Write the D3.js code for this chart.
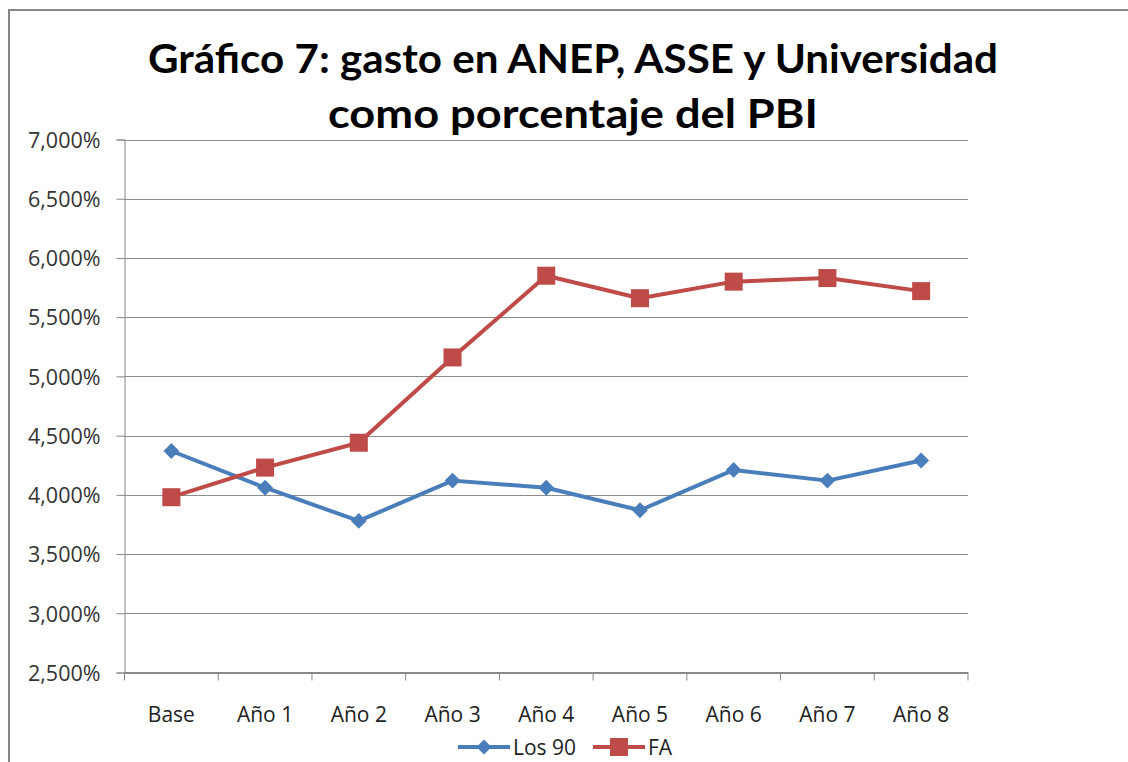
<!DOCTYPE html>
<html><head><meta charset="utf-8">
<script src="https://cdn.jsdelivr.net/npm/d3@7"></script>
<style>body{margin:0;background:#fff}svg{display:block}</style>
</head><body>
<svg id="c" width="1128" height="762"></svg>
<script>
const categories = ["Base","Año 1","Año 2","Año 3","Año 4","Año 5","Año 6","Año 7","Año 8"];
const los90 = [4.37,4.06,3.78,4.12,4.06,3.87,4.21,4.12,4.29];
const fa = [3.98,4.23,4.44,5.16,5.85,5.66,5.80,5.83,5.72];
const yTicks = [2.5,3.0,3.5,4.0,4.5,5.0,5.5,6.0,6.5,7.0];
const titleLines = ["Gráfico 7: gasto en ANEP, ASSE y Universidad","como porcentaje del PBI"];
const seriesNames = ["Los 90","FA"];

const svg = d3.select("#c");
const L=124.5, R=968, T=139.5, B=672.5;
const font = "'Open Sans', 'Noto Sans', sans-serif";

// frame
svg.append("path").attr("d","M9,762 V10 H1128").attr("fill","none").attr("stroke","#868686").attr("stroke-width",2);

// title
const tw = [850, 490];
svg.selectAll("text.title").data(titleLines).join("text")
  .attr("x",573).attr("y",(d,i)=>i?128:73)
  .attr("text-anchor","middle").attr("font-family","'Lato','Open Sans',sans-serif")
  .attr("font-weight","bold").attr("font-size",40).attr("fill","#000")
  .attr("textLength",(d,i)=>tw[i]).attr("lengthAdjust","spacingAndGlyphs")
  .text(d=>d);

const x = d3.scaleBand().domain(categories).range([L,R]);
const y = d3.scaleLinear().domain([2.5,7.0]).range([B,T]);

// gridlines
svg.append("g").selectAll("line").data(yTicks).join("line")
  .attr("x1",L).attr("x2",R).attr("y1",d=>Math.round(y(d))+0.5).attr("y2",d=>Math.round(y(d))+0.5)
  .attr("stroke","#8c8c8c").attr("stroke-width",1);

// y axis
const fmt = d => d3.format(".3f")(d).replace(".",",")+"%";
const ya = svg.append("g").attr("transform",`translate(${L},0)`)
  .call(d3.axisLeft(y).tickValues(yTicks).tickFormat(fmt).tickSize(8).tickPadding(16));
ya.select(".domain").attr("stroke","#868686");
ya.selectAll(".tick line").attr("stroke","#868686");
ya.selectAll("text").attr("font-family",font).attr("font-size",21.5).attr("fill","#333").attr("dy","0.36em");

// x axis
const xa = svg.append("g").attr("transform",`translate(0,${B})`)
  .call(d3.axisBottom(x).tickSize(0));
xa.select(".domain").attr("stroke","#868686").attr("d",`M${L},0H${R}`);
xa.selectAll("text").attr("font-family",font).attr("font-size",21).attr("fill","#222").attr("y",49.5).attr("dy",0);
const bounds = categories.map(c=>x(c)).concat([R]);
xa.selectAll("line.bt").data(bounds).join("line").attr("class","bt")
  .attr("x1",d=>d).attr("x2",d=>d).attr("y1",0).attr("y2",8).attr("stroke","#868686");

const blue="#4A7EBB", red="#BE4B48";
const line = d3.line().x((d,i)=>x(categories[i])+x.bandwidth()/2).y(d=>y(d));
svg.append("path").datum(los90).attr("d",line).attr("fill","none").attr("stroke",blue).attr("stroke-width",4).attr("stroke-linejoin","round");
svg.append("path").datum(fa).attr("d",line).attr("fill","none").attr("stroke",red).attr("stroke-width",4).attr("stroke-linejoin","round");

svg.append("g").selectAll("path").data(los90).join("path")
  .attr("transform",(d,i)=>`translate(${x(categories[i])+x.bandwidth()/2},${y(d)}) rotate(45)`)
  .attr("d",d3.symbol().type(d3.symbolSquare).size(125)).attr("fill",blue);
svg.append("g").selectAll("rect").data(fa).join("rect")
  .attr("x",(d,i)=>x(categories[i])+x.bandwidth()/2-9).attr("y",d=>y(d)-9)
  .attr("width",18).attr("height",18).attr("fill",red);

// legend
const lg = svg.append("g");
lg.append("line").attr("x1",458).attr("x2",510).attr("y1",747).attr("y2",747).attr("stroke",blue).attr("stroke-width",4);
lg.append("path").attr("transform","translate(484,747) rotate(45)").attr("d",d3.symbol().type(d3.symbolSquare).size(115)).attr("fill",blue);
lg.append("text").attr("x",513).attr("y",755).attr("font-family",font).attr("font-size",21).attr("fill","#222").text(seriesNames[0]);
lg.append("line").attr("x1",593).attr("x2",645).attr("y1",747).attr("y2",747).attr("stroke",red).attr("stroke-width",4);
lg.append("rect").attr("x",610).attr("y",738).attr("width",18).attr("height",18).attr("fill",red);
lg.append("text").attr("x",648).attr("y",755).attr("font-family",font).attr("font-size",21).attr("fill","#222").text(seriesNames[1]);
</script>
</body></html>
